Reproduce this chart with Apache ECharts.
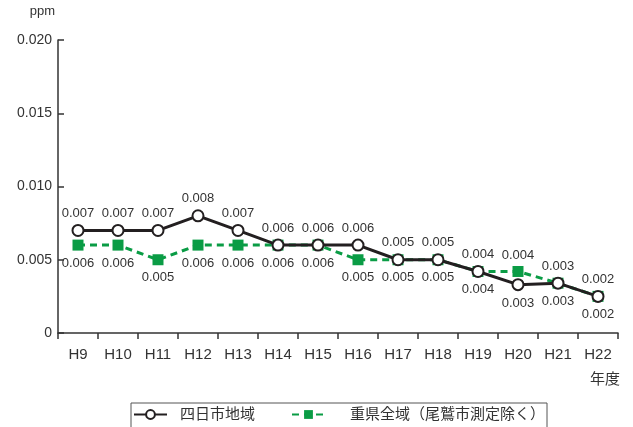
<!DOCTYPE html>
<html>
<head>
<meta charset="utf-8">
<script src="https://cdn.jsdelivr.net/npm/echarts@6/dist/echarts.min.js"></script>
<style>
  html, body { margin: 0; padding: 0; background: #fff; }
  #chart { width: 633px; height: 427px; }
</style>
</head>
<body>
<div id="chart"></div>
<script>
const years = ["H9", "H10", "H11", "H12", "H13", "H14", "H15", "H16", "H17", "H18", "H19", "H20", "H21", "H22"];
const yokkaichi = [0.007, 0.007, 0.007, 0.008, 0.007, 0.006, 0.006, 0.006, 0.005, 0.005, 0.0042, 0.0033, 0.0034, 0.0025];
const mieAll = [0.006, 0.006, 0.005, 0.006, 0.006, 0.006, 0.006, 0.005, 0.005, 0.005, 0.0042, 0.0042, 0.0034, 0.0025];
const yTicks = [0, 0.005, 0.010, 0.015, 0.020];

const font = "'Liberation Sans', 'Noto Sans CJK JP', sans-serif";
const txt = "#333";

// 3桁で切り捨て表示
function fmt(v) {
  return (Math.floor(v * 1000 + 1e-6) / 1000).toFixed(3);
}

// H20 だけラベルの上下が入れ替わる
function withLabels(arr, swapIdx, swapPos, dist) {
  return arr.map(function (v, i) {
    if (i === swapIdx) return { value: v, label: { position: swapPos, distance: dist } };
    return v;
  });
}

const chart = echarts.init(document.getElementById("chart"));
chart.setOption({
  animation: false,
  textStyle: { fontFamily: font },
  grid: { left: 58, right: 15, top: 40, bottom: 94 },
  legend: {
    left: 131,
    top: 403,
    padding: [4, 2, 10, 2],
    borderColor: "#555",
    borderWidth: 1,
    itemWidth: 33,
    itemHeight: 11,
    itemGap: 36,
    textStyle: { fontSize: 15, color: txt, fontFamily: font },
    data: [
      { name: "四日市地域", textStyle: { padding: [0, 0, 0, 8] } },
      { name: "重県全域（尾鷲市測定除く）", textStyle: { padding: [0, 0, 0, 20] } }
    ]
  },
  xAxis: {
    type: "category",
    data: years,
    boundaryGap: true,
    name: "年度",
    nameLocation: "end",
    nameGap: 2,
    nameTextStyle: { align: "right", verticalAlign: "top", padding: [39, 0, 0, 0], fontSize: 15, color: txt },
    axisLine: { lineStyle: { color: "#333", width: 1.5 } },
    axisTick: { show: true, length: 6, lineStyle: { color: "#333", width: 1.5 } },
    axisLabel: { fontSize: 15, color: txt, margin: 14 }
  },
  yAxis: {
    type: "value",
    min: 0,
    max: 0.020,
    interval: 0.005,
    name: "ppm",
    nameLocation: "end",
    nameGap: 22,
    nameTextStyle: { align: "right", fontSize: 13, color: txt, padding: [0, 3, 0, 0] },
    splitLine: { show: false },
    axisLine: { show: true, lineStyle: { color: "#333", width: 1.5 } },
    axisTick: { show: true, inside: true, length: 6, lineStyle: { color: "#333", width: 1.5 } },
    axisLabel: {
      fontSize: 14,
      color: txt,
      margin: 6,
      formatter: function (v) {
        const t = yTicks.find(function (x) { return Math.abs(x - v) < 1e-9; });
        return t === 0 ? "0" : t.toFixed(3);
      }
    }
  },
  series: [
    {
      name: "重県全域（尾鷲市測定除く）",
      type: "line",
      z: 2,
      data: withLabels(mieAll, 11, "top", 4),
      symbol: "rect",
      symbolSize: 11,
      itemStyle: { color: "#0a9c45" },
      lineStyle: { color: "#0a9c45", width: 3, type: [7, 5] },
      label: { show: true, position: "bottom", distance: 6, fontSize: 13, color: txt, formatter: function (p) { return fmt(p.value); } }
    },
    {
      name: "四日市地域",
      type: "line",
      z: 3,
      data: withLabels(yokkaichi, 11, "bottom", 6),
      symbol: "circle",
      symbolSize: 11,
      itemStyle: { color: "#fff", borderColor: "#231f20", borderWidth: 2 },
      lineStyle: { color: "#231f20", width: 3 },
      label: { show: true, position: "top", distance: 4, fontSize: 13, color: txt, formatter: function (p) { return fmt(p.value); } }
    }
  ]
});
</script>
</body>
</html>
